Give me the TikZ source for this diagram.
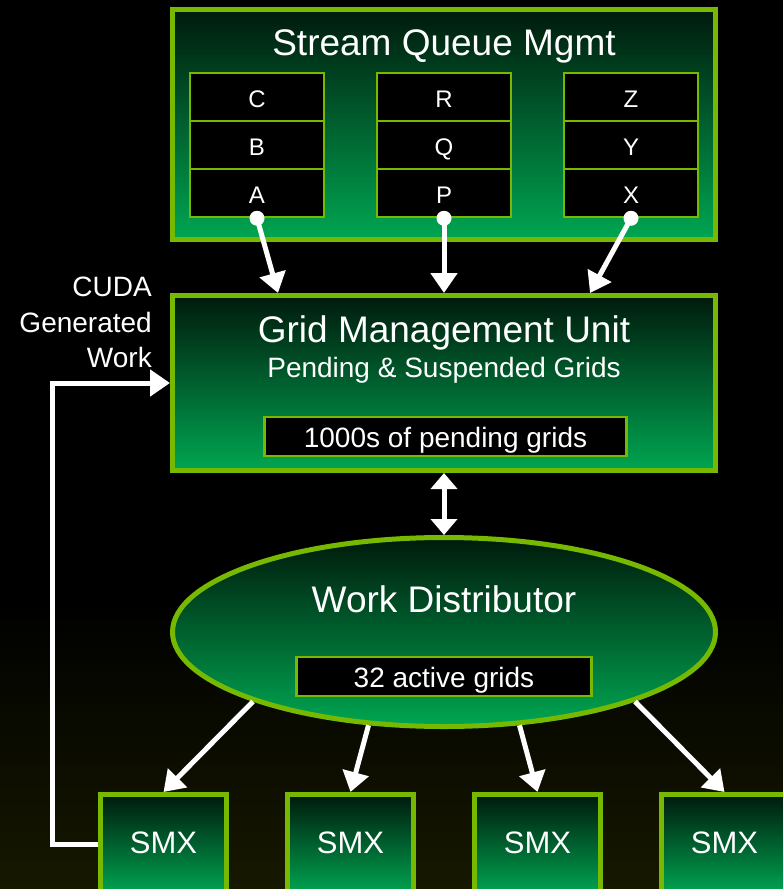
\documentclass[tikz,border=0pt]{standalone}
\usepackage{fontspec}
\setmainfont{Liberation Sans}
\usetikzlibrary{shapes.geometric,arrows.meta}
\definecolor{nvgreen}{HTML}{76B900}
\definecolor{boxtop}{HTML}{001A0C}
\definecolor{boxbot}{HTML}{00A651}
\definecolor{bgbot}{HTML}{161800}

\begin{document}
\begin{tikzpicture}[x=1pt,y=-1pt,
    panel/.style={draw=nvgreen,line width=5pt,top color=boxtop,bottom color=boxbot,inner sep=0pt},
    cell/.style={draw=nvgreen,line width=2.5pt,fill=black,text=white,inner sep=0pt,minimum width=134pt,minimum height=48pt,text height=20pt,text depth=0pt,font=\fontsize{24}{28}\selectfont},
    tag/.style={draw=nvgreen,line width=2.5pt,fill=black,text=white,inner sep=0pt,minimum height=39pt,text height=21pt,text depth=0pt,font=\fontsize{28}{32}\selectfont},
    title/.style={text=white,font=\fontsize{37}{44}\selectfont,anchor=base},
    sub/.style={text=white,font=\fontsize{28}{35.5}\selectfont,anchor=base},
    arr/.style={draw=white,line width=5pt,-{Triangle[length=20pt,width=26pt]}},
    dot/.style={fill=white}]

    \useasboundingbox (0,0) rectangle (783,889);
    \fill[black] (0,0) rectangle (783,600);
    \shade[top color=black,bottom color=bgbot] (0,599) rectangle (783,889);
    \clip (0,0) rectangle (783,889);

    % stream queues
    \node[panel,minimum width=543pt,minimum height=230pt] (sqm) at (444,124.5) {};
    \node[title] (sqmtitle) at (444,55) {Stream Queue Mgmt};
    \foreach \x/\p/\q/\r in {257/C/B/A, 444/R/Q/P, 631/Z/Y/X} {
        \node[cell] (\p) at (\x,97) {\p};
        \node[cell] (\q) at (\x,145) {\q};
        \node[cell] (\r) at (\x,193) {\r};
    }

    % grid management unit
    \node[panel,minimum width=543pt,minimum height=175pt] (gmu) at (444,383) {};
    \node[title] (gmutitle) at (444,342) {Grid Management Unit};
    \node[sub] (gmusub) at (444,377) {Pending \& Suspended Grids};
    \node[tag,minimum width=362pt] (pending) at (445.5,436.5) {1000s of pending grids};

    % work distributor
    \node[panel,ellipse,minimum width=543pt,minimum height=189pt] (wd) at (444,632) {};
    \node[title] (wdtitle) at (444,612) {Work Distributor};
    \node[tag,minimum width=295pt] (active) at (444,676.5) {32 active grids};

    % SMX units
    \foreach \i/\x in {1/163.5, 2/350.5, 3/537.5, 4/724.5}
        \node[panel,minimum width=126pt,minimum height=100pt,text=white,text height=17pt,text depth=0pt,font=\fontsize{31}{36}\selectfont] (smx\i) at (\x,844.5) {SMX};

    \node[sub,anchor=north east,inner sep=0pt,align=right] (cuda) at (152,277) {CUDA\\Generated\\Work};

    % connectors
    \foreach \n in {A,P,X}
        \fill[dot] (\n.south) circle[radius=7.5pt];
    \draw[arr] (A.south) -- ([xshift=-166pt]gmu.north);
    \draw[arr] (P.south) -- (gmu.north);
    \draw[arr] (X.south) -- ([xshift=146pt]gmu.north);

    \draw[draw=white,line width=5pt,{Triangle[length=16pt,width=26pt]}-{Triangle[length=16pt,width=26pt]}] (gmu.south) -- (wd.north);

    \draw[arr] (wd.200) -- (smx1.north);
    \draw[arr] (wd.231) -- (smx2.north);
    \draw[arr] (wd.309) -- (smx3.north);
    \draw[arr] (wd.340) -- (smx4.north);

    \coordinate (loop) at (52,0);
    \draw[arr] (smx1.west) -| (loop |- gmu.west) -- (gmu.west);
\end{tikzpicture}
\end{document}
